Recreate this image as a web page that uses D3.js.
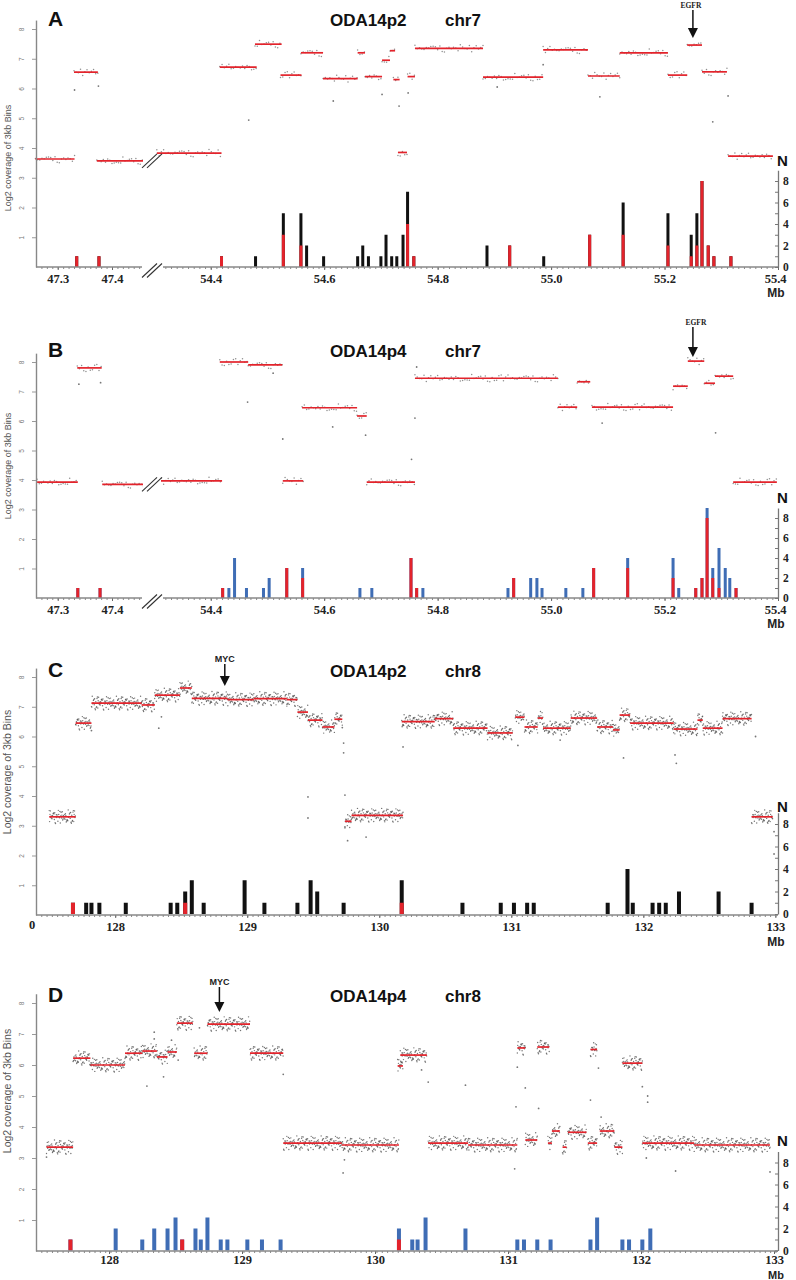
<!DOCTYPE html>
<html><head><meta charset="utf-8">
<script src="https://cdn.jsdelivr.net/npm/d3@7"></script>
<style>body{margin:0;background:#fff}svg{display:block}</style>
</head><body>
<svg id="c" width="796" height="1280"></svg>
<script>
// ---------------- DATA ----------------
const chr7Ticks = [47.3, 47.4, 54.4, 54.6, 54.8, 55.0, 55.2, 55.4];
const chr8Ticks = [128, 129, 130, 131, 132, 133];
const log2Ticks = [1, 2, 3, 4, 5, 6, 7, 8];
const nTicks = [0, 1, 2, 3, 4, 5, 6, 7, 8];
const panelLetters = ["A", "B", "C", "D"];
const samples = ["ODA14p2", "ODA14p4", "ODA14p2", "ODA14p4"];
const chroms = ["chr7", "chr7", "chr8", "chr8"];
const genes = [["EGFR", 55.25], ["EGFR", 55.25], ["MYC", 128.83], ["MYC", 128.83]];

// segments: [start Mb, end Mb, log2 coverage]
const segA = [[47.259,47.331,3.63],[47.330,47.374,6.55],[47.372,47.468,3.57],[54.305,54.419,3.83],[54.416,54.481,6.72],[54.478,54.525,7.49],[54.523,54.560,6.45],[54.559,54.598,7.2],[54.598,54.659,6.33],[54.659,54.672,7.2],[54.672,54.702,6.4],[54.702,54.716,6.95],[54.716,54.725,7.27],[54.722,54.733,6.3],[54.730,54.746,3.85],[54.747,54.760,6.4],[54.760,54.880,7.35],[54.880,54.986,6.38],[54.986,55.065,7.3],[55.065,55.121,6.42],[55.121,55.206,7.2],[55.206,55.240,6.45],[55.240,55.266,7.46],[55.266,55.310,6.56],[55.312,55.391,3.73]];
const segB = [[47.262,47.337,3.93],[47.336,47.381,7.8],[47.382,47.466,3.85],[54.305,54.420,3.97],[54.416,54.466,8.0],[54.466,54.526,7.9],[54.527,54.563,3.97],[54.561,54.658,6.45],[54.658,54.675,6.17],[54.675,54.760,3.93],[54.760,55.012,7.45],[55.012,55.046,6.47],[55.046,55.069,7.33],[55.072,55.215,6.47],[55.215,55.241,7.18],[55.241,55.270,8.03],[55.270,55.289,7.28],[55.289,55.321,7.52],[55.321,55.398,3.93]];
const segC = [[127.50,127.70,3.3],[127.70,127.82,6.45],[127.82,128.20,7.12],[128.20,128.30,7.06],[128.30,128.49,7.39],[128.49,128.58,7.63],[128.58,128.85,7.28],[128.85,129.05,7.24],[129.05,129.30,7.27],[129.30,129.38,7.24],[129.38,129.46,6.82],[129.46,129.57,6.55],[129.57,129.66,6.32],[129.66,129.72,6.58],[129.74,129.79,3.15],[129.79,130.18,3.35],[130.17,130.42,6.5],[130.42,130.56,6.6],[130.56,130.82,6.28],[130.82,131.01,6.12],[131.03,131.10,6.65],[131.10,131.20,6.32],[131.20,131.24,6.62],[131.24,131.45,6.28],[131.45,131.65,6.62],[131.65,131.77,6.32],[131.77,131.82,6.22],[131.82,131.90,6.72],[131.90,132.23,6.45],[132.23,132.41,6.25],[132.41,132.45,6.55],[132.45,132.60,6.28],[132.60,132.82,6.6],[132.82,132.98,3.3]];
const segD = [[127.53,127.73,3.35],[127.73,127.86,6.22],[127.86,128.12,6.0],[128.12,128.25,6.38],[128.25,128.36,6.45],[128.36,128.44,6.26],[128.44,128.51,6.42],[128.51,128.63,7.35],[128.64,128.74,6.38],[128.74,129.06,7.32],[129.06,129.31,6.38],[129.31,129.75,3.48],[129.75,130.18,3.42],[130.17,130.21,5.97],[130.19,130.39,6.32],[130.40,130.70,3.48],[130.70,131.07,3.42],[131.07,131.13,6.55],[131.13,131.22,3.58],[131.22,131.31,6.58],[131.30,131.33,3.48],[131.33,131.39,3.87],[131.41,131.44,3.35],[131.45,131.59,3.83],[131.60,131.67,3.48],[131.62,131.67,6.5],[131.69,131.80,3.87],[131.80,131.86,3.35],[131.86,132.01,6.06],[132.01,132.40,3.48],[132.40,132.97,3.42]];

// isolated bins off the segments: [Mb, log2]
const outA = [[47.331,5.95],[47.375,6.08],[54.467,4.94],[54.616,5.58],[54.702,5.8],[54.732,5.41],[54.748,5.85],[54.905,6.05],[54.986,6.8],[55.086,5.72],[55.285,4.88],[55.312,5.75]];
const outB = [[47.339,7.25],[47.379,7.3],[54.465,6.64],[54.510,7.62],[54.527,5.39],[54.615,5.8],[54.673,5.52],[54.754,4.7],[54.760,6.1],[54.763,7.83],[55.090,5.93],[55.290,5.6]];
const outC = [[127.82,6.2],[128.33,6.28],[128.35,6.66],[129.46,3.97],[129.46,3.26],[129.72,6.3],[129.73,5.78],[129.73,5.45],[129.74,4.03],[129.74,2.96],[129.76,2.5],[129.90,2.62],[130.18,5.65],[131.05,5.7],[131.37,5.88],[131.85,5.28],[132.24,5.38],[132.25,5.1],[132.85,6.0],[132.99,2.8],[132.99,2.05]];
const outD = [[127.53,3.03],[128.285,5.32],[128.34,7.06],[128.34,6.84],[128.41,5.62],[128.47,6.8],[128.52,6.16],[128.68,7.2],[129.31,5.7],[129.76,2.52],[129.77,2.94],[130.35,5.84],[130.40,5.45],[130.68,5.35],[131.06,4.65],[131.07,5.93],[131.05,2.65],[131.13,5.26],[131.23,4.6],[131.62,4.87],[131.68,5.9],[131.70,4.32],[132.01,5.3],[132.05,5.0],[132.05,4.8],[132.04,3.0],[132.26,2.58],[132.97,2.55]];

// breakpoint counts N: [Mb, total, red part]
const barsA = [[47.335,1,1],[47.376,1,1],[54.419,1,1],[54.479,1,0],[54.528,5,3],[54.559,5,2],[54.569,2,0],[54.599,1,0],[54.659,1,0],[54.668,2,0],[54.678,1,0],[54.700,1,0],[54.709,3,0],[54.719,1,0],[54.728,1,0],[54.739,3,0],[54.747,7,4],[54.758,1,1],[54.887,2,0],[54.927,2,2],[54.987,1,0],[55.068,3,3],[55.127,6,3],[55.206,5,2],[55.247,3,1],[55.257,5,2],[55.266,8,8],[55.277,2,2],[55.287,1,1],[55.317,1,1]];
const barsB = [[47.337,1,1],[47.378,1,1],[54.421,1,1],[54.432,1,0],[54.442,4,0],[54.463,1,0],[54.493,1,0],[54.503,2,0],[54.534,3,3],[54.562,3,2],[54.663,1,0],[54.684,1,0],[54.753,4,4],[54.763,1,1],[54.774,1,0],[54.924,1,0],[54.934,2,2],[54.964,2,0],[54.975,2,0],[54.984,1,0],[55.026,1,0],[55.056,1,0],[55.075,3,3],[55.135,4,3],[55.215,4,2],[55.225,1,0],[55.255,1,1],[55.266,2,2],[55.275,9,8],[55.285,3,2],[55.296,5,1],[55.307,3,0],[55.315,2,0],[55.326,1,1]];
const barsC = [[127.68,1,1],[127.78,1,0],[127.82,1,0],[127.88,1,0],[128.08,1,0],[128.42,1,0],[128.47,1,0],[128.53,2,1],[128.58,3,0],[128.67,1,0],[128.98,3,0],[129.13,1,0],[129.38,1,0],[129.48,3,0],[129.53,2,0],[129.73,1,0],[130.17,3,1],[130.63,1,0],[130.92,1,0],[131.02,1,0],[131.12,1,0],[131.17,1,0],[131.73,1,0],[131.88,4,0],[131.92,1,0],[132.07,1,0],[132.12,1,0],[132.17,1,0],[132.27,2,0],[132.57,2,0],[132.82,1,0]];
const barsD = [[127.71,1,1],[128.05,2,0],[128.25,1,0],[128.34,2,0],[128.44,2,0],[128.50,3,0],[128.55,1,1],[128.65,2,0],[128.69,1,0],[128.74,3,0],[128.84,1,0],[128.89,1,0],[129.04,1,0],[129.15,1,0],[129.29,1,0],[130.18,2,1],[130.28,1,0],[130.32,1,0],[130.38,3,0],[130.68,2,0],[131.07,1,0],[131.12,1,0],[131.22,1,0],[131.32,1,0],[131.62,1,0],[131.67,3,0],[131.86,1,0],[131.91,1,0],[132.01,1,0],[132.07,2,0]];

// observed bin-to-bin deviations around a segment mean (log2 units, typed list)
const binNoise = [0.12,-0.35,0.58,-0.07,0.91,-0.62,0.24,-0.18,0.44,-0.83,0.05,0.33,-0.51,0.71,-0.27,0.15,-0.95,0.39,-0.04,0.66,-0.44,0.21,-0.72,0.02,0.52,-0.14,0.87,-0.31,0.09,-0.58,0.29,-0.22,0.76,-0.67,0.18,0.47,-0.39,-0.11,0.61,-0.86,0.35,-0.02,0.55,-0.48,0.27,-0.76,0.13,0.83,-0.25,0.41,-0.55,0.07,-0.91,0.64,-0.09,0.31,-0.37,0.97,-0.61,0.22,-0.16];

// ---------------- LAYOUT ----------------
const X0 = 36, X1 = 778;
const panels = [
  {seg: segA, out: outA, bars: barsA, barColor: "#111", kind: 7, base: 267, unit: 29.75, nBase: 267, nUnit: 10.75, titleY: 26, labY: 158, labF: 9, nLabY: 166, mbY: 297, mbF: 12, pad: 4, barW: 3, step: 0.004, spread: 0.13, dotR: 0.75, dotOp: 0.6, gene: {ty: 8, a0: 10, a1: 38, dx: -2}},
  {seg: segB, out: outB, bars: barsB, barColor: "#3f6db5", kind: 7, base: 598, unit: 29.5, nBase: 598, nUnit: 10, titleY: 357, labY: 466, labF: 9, nLabY: 503, mbY: 628, mbF: 12, pad: 4, barW: 3, step: 0.004, spread: 0.13, dotR: 0.75, dotOp: 0.6, gene: {ty: 325, a0: 327, a1: 357, dx: 3}},
  {seg: segC, out: outC, bars: barsC, barColor: "#111", kind: 8, base: 915, unit: 29.75, nBase: 914, nUnit: 11.25, titleY: 677, labY: 772, labF: 10.5, nLabY: 812, mbY: 946, mbF: 12, pad: 4, barW: 4, step: 0.003, spread: 0.24, dotR: 0.7, dotOp: 0.75, gene: {ty: 662, a0: 664, a1: 686, dx: 0}, zeroLabel: true},
  {seg: segD, out: outD, bars: barsD, barColor: "#3f6db5", kind: 8, base: 1251, unit: 31, nBase: 1250.5, nUnit: 11, titleY: 1002, labY: 1091, labF: 10.5, nLabY: 1146, mbY: 1279, mbF: 11, pad: 1, barW: 4, step: 0.003, spread: 0.24, dotR: 0.7, dotOp: 0.75, gene: {ty: 985, a0: 987, a1: 1012, dx: 0}}
];
const xDomains = [
  [[47.26, 47.47, 54.3, 55.4], [X0, 150, 154, X1]],
  [[47.26, 47.47, 54.3, 55.4], [X0, 150, 154, X1]],
  [[127.40, 133.02], [X0, X1]],
  [[127.451, 133.03], [X0, X1]]
];
const RED = "#e3232b";
const SERIF = "'Liberation Serif','Times New Roman',serif";
const SANS = "'Liberation Sans',Arial,Helvetica,sans-serif";

const svg = d3.select("#c");

panels.forEach((p, i) => {
  const g = svg.append("g");
  const x = d3.scaleLinear().domain(xDomains[i][0]).range(xDomains[i][1]);
  const y = d3.scaleLinear().domain([0, 8.3]).range([p.base, p.base - 8.3 * p.unit]);
  const n = d3.scaleLinear().domain([0, 9]).range([p.nBase, p.nBase - 9 * p.nUnit]);

  // bin dots around each segment
  const dots = [];
  let k = i * 13;
  p.seg.forEach(([s, e, v]) => {
    for (let q = s; q <= e; q += p.step) {
      dots.push([q, v + p.spread * binNoise[k % binNoise.length]]);
      k += 7;
    }
  });
  g.append("g").selectAll("circle").data(dots).join("circle")
    .attr("cx", d => x(d[0])).attr("cy", d => y(d[1]))
    .attr("r", p.dotR).attr("fill", "#444").attr("opacity", p.dotOp);
  g.append("g").selectAll("circle").data(p.out).join("circle")
    .attr("cx", d => x(d[0])).attr("cy", d => y(d[1]))
    .attr("r", 0.9).attr("fill", "#777");

  // segment means
  g.append("g").selectAll("line").data(p.seg).join("line")
    .attr("x1", d => x(d[0])).attr("x2", d => x(d[1]))
    .attr("y1", d => y(d[2])).attr("y2", d => y(d[2]))
    .attr("stroke", RED).attr("stroke-width", 1.7);

  // bars
  const bg = g.append("g");
  bg.selectAll("rect.t").data(p.bars).join("rect").attr("class", "t")
    .attr("x", d => x(d[0]) - p.barW / 2).attr("width", p.barW)
    .attr("y", d => n(d[1])).attr("height", d => n(0) - n(d[1]))
    .attr("fill", p.barColor);
  bg.selectAll("rect.r").data(p.bars.filter(d => d[2] > 0)).join("rect").attr("class", "r")
    .attr("x", d => x(d[0]) - p.barW / 2).attr("width", p.barW)
    .attr("y", d => n(d[2])).attr("height", d => n(0) - n(d[2]))
    .attr("fill", RED);

  // left axis
  const ya = g.append("g").attr("transform", `translate(${X0},0)`)
    .call(d3.axisLeft(y).tickValues(log2Ticks).tickSizeInner(4).tickSizeOuter(0).tickFormat(d3.format("d")));
  ya.select(".domain").attr("stroke", "#888").attr("stroke-width", 1.4);
  ya.selectAll(".tick line").attr("stroke", "#999");
  ya.selectAll(".tick text").attr("x", 0).attr("dy", null).attr("y", 0)
    .attr("transform", "translate(-14,0) rotate(-90)")
    .attr("text-anchor", "middle").attr("dominant-baseline", "middle")
    .attr("font-size", 6.5).attr("font-family", SANS).attr("fill", "#777");

  // bottom axis
  const tickVals = p.kind === 7 ? chr7Ticks : chr8Ticks;
  const minor = p.kind === 7
    ? d3.range(47.27, 47.465, 0.01).concat(d3.range(54.31, 55.395, 0.01))
    : d3.range(xDomains[i][0][0] + 0.04, xDomains[i][0][1] - 0.01, 0.04);
  const xa = g.append("g").attr("transform", `translate(0,${p.base})`);
  xa.call(d3.axisBottom(x).tickValues(minor).tickSize(2).tickFormat(""));
  xa.select(".domain").remove();
  xa.selectAll(".tick line").attr("stroke", "#888");
  const xb = g.append("g").attr("transform", `translate(0,${p.base})`)
    .call(d3.axisBottom(x).tickValues(tickVals).tickSize(3).tickPadding(p.pad)
      .tickFormat(p.kind === 7 ? d3.format(".1f") : d3.format("d")));
  xb.select(".domain").remove();
  xb.selectAll(".tick line").attr("stroke", "#666");
  xb.selectAll(".tick text").attr("font-family", SERIF).attr("font-weight", "bold")
    .attr("font-size", 12.5).attr("fill", "#222");
  if (p.kind === 7) {
    xb.selectAll(".tick text").filter(d => d === 55.4).attr("text-anchor", "end").attr("dx", 8);
  }
  // axis line (broken for chr7)
  const spans = p.kind === 7 ? [[X0, 142], [163, X1]] : [[X0, X1]];
  g.append("g").selectAll("line").data(spans).join("line")
    .attr("x1", d => d[0]).attr("x2", d => d[1]).attr("y1", p.base).attr("y2", p.base)
    .attr("stroke", "#888").attr("stroke-width", 1.3);
  if (p.kind === 7) {
    const bx = (x(47.47) + x(54.3)) / 2;
    const by = [p.base + 3.5, y(p.seg[2][2])];
    by.forEach(yy => {
      g.append("rect").attr("x", bx - 9).attr("y", yy - 5).attr("width", 18).attr("height", 10).attr("fill", "#fff");
      [[-10, 5], [-5, 10]].forEach(([a, b]) => {
        g.append("line").attr("x1", bx + a).attr("y1", yy + 7).attr("x2", bx + b).attr("y2", yy - 7)
          .attr("stroke", "#333").attr("stroke-width", 1.1);
      });
    });
  }
  if (p.zeroLabel) {
    g.append("text").attr("x", 32).attr("y", p.base + 14).attr("text-anchor", "middle")
      .attr("font-family", SERIF).attr("font-weight", "bold").attr("font-size", 12.5).attr("fill", "#222").text("0");
  }
  g.append("text").attr("x", 776).attr("y", p.mbY).attr("text-anchor", "middle")
    .attr("font-family", SANS).attr("font-weight", "bold").attr("font-size", p.mbF).attr("fill", "#222").text("Mb");

  // right N axis
  const na = g.append("g").attr("transform", `translate(${X1},0)`)
    .call(d3.axisRight(n).tickValues(nTicks).tickSizeInner(-3).tickSizeOuter(0).tickPadding(5)
      .tickFormat(d => d % 2 === 0 ? d : ""));
  na.select(".domain").attr("stroke", "#777").attr("stroke-width", 1.3);
  na.selectAll(".tick line").attr("stroke", "#777");
  na.selectAll(".tick text").attr("font-family", SERIF).attr("font-weight", "bold")
    .attr("font-size", 11.5).attr("fill", "#222");
  g.append("text").attr("x", 777).attr("y", p.nLabY)
    .attr("font-family", SANS).attr("font-weight", "bold").attr("font-size", 15).attr("fill", "#111").text("N");

  // y label
  g.append("text").attr("transform", `translate(11,${p.labY}) rotate(-90)`).attr("text-anchor", "middle")
    .attr("font-family", SANS).attr("font-size", p.labF).attr("fill", "#555").text("Log2 coverage of 3kb Bins");

  // titles
  g.append("text").attr("x", 48).attr("y", p.titleY).attr("font-family", SANS).attr("font-weight", "bold")
    .attr("font-size", 21).attr("fill", "#111").text(panelLetters[i]);
  g.append("text").attr("x", 330).attr("y", p.titleY).attr("font-family", SANS).attr("font-weight", "bold")
    .attr("font-size", 17).attr("fill", "#111").text(samples[i]);
  g.append("text").attr("x", 445).attr("y", p.titleY).attr("font-family", SANS).attr("font-weight", "bold")
    .attr("font-size", 17).attr("fill", "#111").text(chroms[i]);

  // gene arrow
  const gx = x(genes[i][1]);
  const gl = p.gene;
  g.append("text").attr("x", gx + gl.dx).attr("y", gl.ty).attr("text-anchor", "middle")
    .attr("font-family", p.kind === 7 ? SERIF : SANS).attr("font-weight", "bold")
    .attr("font-size", p.kind === 7 ? 7.5 : 9).attr("fill", "#222").text(genes[i][0]);
  g.append("line").attr("x1", gx).attr("x2", gx).attr("y1", gl.a0).attr("y2", gl.a1 - 8)
    .attr("stroke", "#111").attr("stroke-width", 1.5);
  g.append("path").attr("d", `M${gx - 5},${gl.a1 - 10}L${gx + 5},${gl.a1 - 10}L${gx},${gl.a1}Z`).attr("fill", "#111");
});
</script>
</body></html>
